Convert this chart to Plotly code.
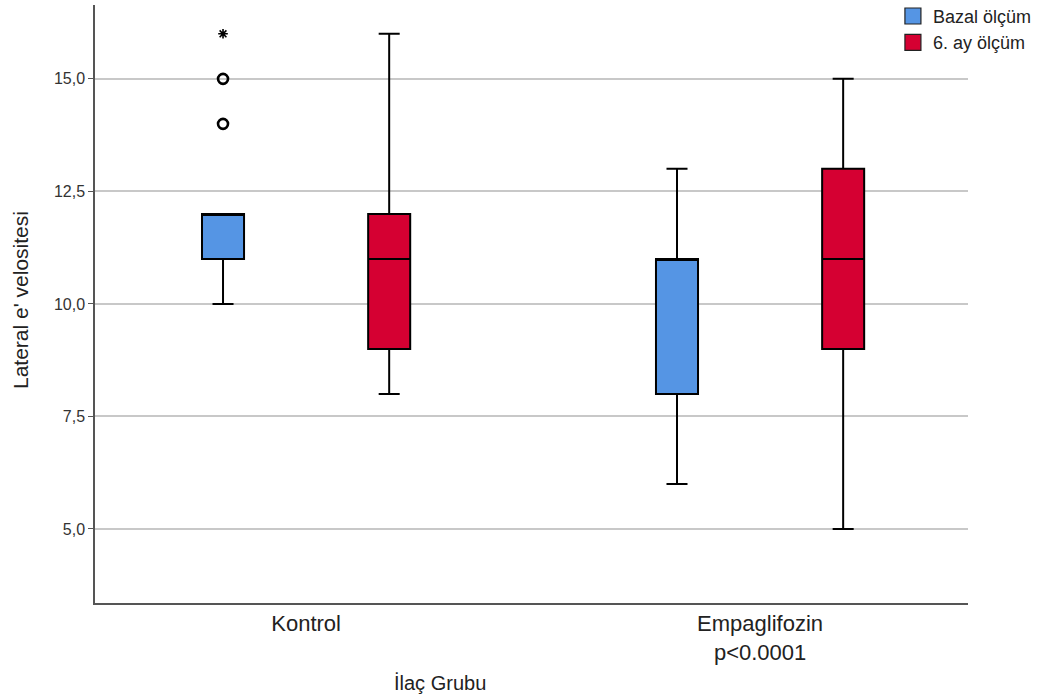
import plotly.graph_objects as go

categories = ["Kontrol", "Empaglifozin<br>p<0.0001"]
series_names = ["Bazal ölçüm", "6. ay ölçüm"]
colors = ["#5595E4", "#D50032"]

# precomputed box statistics per series (one value per category)
bazal_q1 = [11, 8]
bazal_median = [12, 11]
bazal_q3 = [12, 11]
bazal_low = [10, 6]
bazal_high = [12, 13]

ay6_q1 = [9, 9]
ay6_median = [11, 11]
ay6_q3 = [12, 13]
ay6_low = [8, 5]
ay6_high = [16, 15]

# outliers (Bazal, Kontrol)
outlier_vals = [15, 14]
extreme_vals = [16]

y_ticks = [5, 7.5, 10, 12.5, 15]
y_tick_text = ["5,0", "7,5", "10,0", "12,5", "15,0"]

fig = go.Figure()
stats = [
    (bazal_q1, bazal_median, bazal_q3, bazal_low, bazal_high),
    (ay6_q1, ay6_median, ay6_q3, ay6_low, ay6_high),
]
for i, (q1, med, q3, lo, hi) in enumerate(stats):
    fig.add_trace(go.Box(
        name=series_names[i],
        x=categories,
        q1=q1, median=med, q3=q3, lowerfence=lo, upperfence=hi,
        fillcolor=colors[i],
        line=dict(color="black", width=2),
        whiskerwidth=0.5,
        offsetgroup=str(i),
        boxpoints=False,
        showlegend=False,
    ))

fig.add_trace(go.Scatter(
    x=[categories[0]] * len(outlier_vals), y=outlier_vals, mode="markers",
    marker=dict(symbol="circle-open", size=10, color="black", line=dict(width=2.6)),
    offsetgroup="0", showlegend=False,
))
fig.add_trace(go.Scatter(
    x=[categories[0]] * len(extreme_vals), y=extreme_vals, mode="markers",
    marker=dict(symbol="asterisk-open", size=8, color="black", line=dict(width=1.6)),
    offsetgroup="0", showlegend=False,
))
# legend entries (square swatches)
for i, name in enumerate(series_names):
    fig.add_trace(go.Scatter(
        x=[categories[0]], y=[None], mode="markers", name=name,
        marker=dict(symbol="square", size=16, color=colors[i],
                    line=dict(color="#222", width=1.2)),
        offsetgroup=str(i), showlegend=True,
    ))

fig.update_layout(
    width=1047, height=699,
    margin=dict(l=95, r=79, t=5, b=96, autoexpand=False),
    paper_bgcolor="white", plot_bgcolor="white",
    font=dict(family="Liberation Sans, Arial, sans-serif", color="#222"),
    boxmode="group", boxgap=0.268, boxgroupgap=0.747,
    scattermode="group", scattergap=0.268,
    legend=dict(x=0.914, xanchor="left", y=1.012, yanchor="top",
                font=dict(size=18, color="#222"), bgcolor="rgba(0,0,0,0)",
                tracegroupgap=0, itemwidth=30, itemsizing="trace"),
    xaxis=dict(
        type="category", range=[-0.465, 1.458],
        showline=True, linecolor="#555", linewidth=1.5,
        showgrid=False, ticks="", tickfont=dict(size=22, color="#222"),
        zeroline=False, automargin=False,
    ),
    yaxis=dict(
        range=[3.356, 16.64],
        tickvals=y_ticks, ticktext=y_tick_text,
        showline=True, linecolor="#555", linewidth=1.5,
        ticks="outside", ticklen=5, tickcolor="#555",
        showgrid=True, gridcolor="#C8C8C8", gridwidth=1.5,
        zeroline=False, tickfont=dict(size=16, color="#333"), automargin=False,
    ),
)
fig.add_annotation(text="Lateral e' velositesi", xref="paper", yref="paper",
                   x=(20 - 95) / 873, y=(603 - 300) / 598, textangle=-90,
                   xanchor="center", yanchor="middle",
                   showarrow=False, font=dict(size=21, color="#222"))
fig.add_annotation(text="İlaç Grubu", xref="paper", yref="paper",
                   x=(440 - 95) / 873, y=-(683 - 603) / 598,
                   xanchor="center", yanchor="middle",
                   showarrow=False, font=dict(size=20, color="#222"))

fig.write_html("out.html", config={"displayModeBar": False},
               post_script="document.body.style.margin='0';window.dispatchEvent(new Event('resize'));")
